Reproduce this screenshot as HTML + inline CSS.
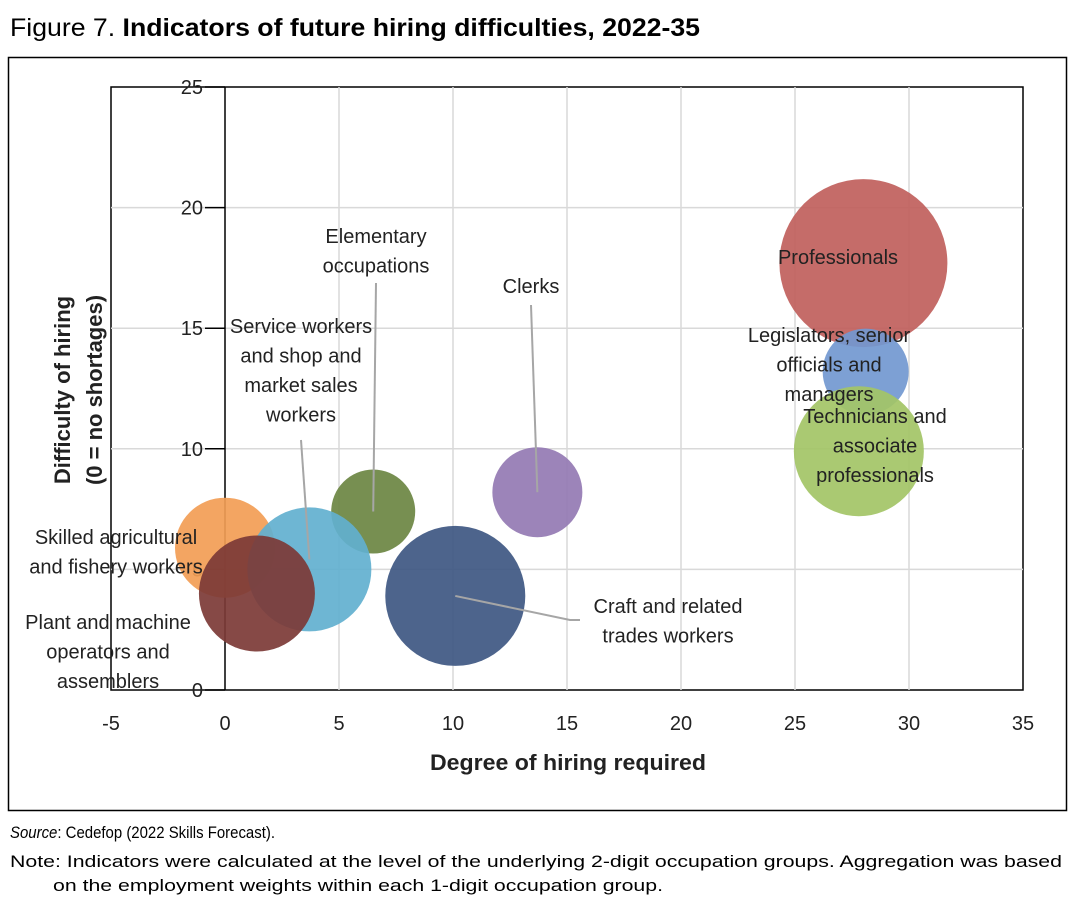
<!DOCTYPE html>
<html><head><meta charset="utf-8"><style>
body{margin:0;background:#fff;width:1081px;height:907px;overflow:hidden;font-family:"Liberation Sans",Arial,sans-serif}
</style></head><body>
<svg width="1081" height="907" xmlns="http://www.w3.org/2000/svg">
<text x="10" y="36" font-size="25" textLength="690" lengthAdjust="spacingAndGlyphs">Figure 7. <tspan font-weight="bold">Indicators of future hiring difficulties, 2022-35</tspan></text>
<rect x="8.5" y="57.5" width="1058" height="753" fill="none" stroke="#000" stroke-width="1.5"/>
<g id="grid"></g><g id="bubbles"></g><g id="leaders"></g><g id="labels"></g>
<text x="568" y="770" font-size="22" font-weight="bold" text-anchor="middle" fill="#222" textLength="276" lengthAdjust="spacingAndGlyphs">Degree of hiring required</text>
<text transform="translate(70,390) rotate(-90)" font-size="22" font-weight="bold" text-anchor="middle" fill="#222"><tspan x="0" dy="0">Difficulty of hiring</tspan><tspan x="0" dy="32">(0 = no shortages)</tspan></text>
<text x="10" y="838" font-size="17" textLength="265" lengthAdjust="spacingAndGlyphs"><tspan font-style="italic">Source</tspan>: Cedefop (2022 Skills Forecast).</text>
<text x="10" y="867" font-size="17" textLength="1052" lengthAdjust="spacingAndGlyphs">Note: Indicators were calculated at the level of the underlying 2-digit occupation groups. Aggregation was based</text>
<text x="53" y="891" font-size="17" textLength="610" lengthAdjust="spacingAndGlyphs">on the employment weights within each 1-digit occupation group.</text>
</svg>
<script>
const categories=["Professionals","Legislators, senior officials and managers","Technicians and associate professionals","Clerks","Elementary occupations","Service workers and shop and market sales workers","Skilled agricultural and fishery workers","Plant and machine operators and assemblers","Craft and related trades workers"];
const xValues=[28.0,28.1,27.8,13.7,6.5,3.7,0.0,1.4,10.1];
const yValues=[17.7,13.2,9.9,8.2,7.4,5.0,5.9,4.0,3.9];
const sizes=[84,43,65,45,42,62,50,58,70];
const xTicks=[-5,0,5,10,15,20,25,30,35];
const yTicks=[0,5,10,15,20,25];
const colors=["#c0605c","#7298d0","#a3c466","#9479b3","#6b8542","#62b0cf","#f29d55","#7c3a36","#3e5782"];
const NS="http://www.w3.org/2000/svg";
const X=v=>225+(v)*22.8, Y=v=>690-v*24.12;
function mk(t,a,p){const e=document.createElementNS(NS,t);for(const k in a)e.setAttribute(k,a[k]);p.appendChild(e);return e;}
const g=document.getElementById('grid');
mk('rect',{x:111,y:87,width:912,height:603,fill:'none',stroke:'#000','stroke-width':1.5},g);
xTicks.forEach(t=>{
 if(t>-5&&t<35&&t!==0){const l=mk('line',{x1:X(t),x2:X(t),y1:87,y2:690,stroke:'#d9d9d9','stroke-width':1.5},g);}
 const tx=mk('text',{x:X(t),y:730,'font-size':20,'text-anchor':'middle',fill:'#222'},g);tx.textContent=t;
 
});
yTicks.forEach(t=>{
 if(t>0&&t<25){const l=mk('line',{x1:111,x2:1023,y1:Y(t),y2:Y(t),stroke:'#d9d9d9','stroke-width':1.5},g);}
 mk('line',{x1:205,x2:225,y1:Y(t),y2:Y(t),stroke:'#000','stroke-width':1.5},g);
 const tx=mk('text',{x:203,y:Y(t)+7,'font-size':20,'text-anchor':'end',fill:'#222'},g);tx.textContent=t;
 
});
mk('line',{x1:X(0),x2:X(0),y1:87,y2:690,stroke:'#000','stroke-width':1.5},g);
const b=document.getElementById('bubbles');
const order=[0,1,2,3,4,6,5,8,7];
order.forEach(i=>{
 const c=mk('circle',{cx:X(xValues[i]),cy:Y(yValues[i]),r:sizes[i],fill:colors[i],'fill-opacity':0.92},b);
 
 
});
const lg=document.getElementById('leaders');
function lead(pts){const l=mk('polyline',{points:pts.map(p=>p.join(',')).join(' '),fill:'none',stroke:'#a6a6a6','stroke-width':2},lg);}
lead([[376,283],[X(xValues[4]),Y(yValues[4])]]);
lead([[301,440],[X(xValues[5]),Y(yValues[5])-10]]);
lead([[531,305],[X(xValues[3]),Y(yValues[3])]]);
lead([[X(xValues[8]),Y(yValues[8])],[570,620],[580,620]]);
const lb=document.getElementById('labels');
function lab(lines,x,y,name){const t=mk('text',{x:x,y:y,'font-size':20,'text-anchor':'middle',fill:'#222'},lb);
 lines.forEach((s,k)=>{const sp=mk('tspan',{x:x,dy:k?29.5:0},t);sp.textContent=s;});
 }
lab(["Professionals"],838,264,'label-professionals');
lab(["Legislators, senior","officials and","managers"],829,342,'label-legislators');
lab(["Technicians and","associate","professionals"],875,423,'label-technicians');
lab(["Clerks"],531,293,'label-clerks');
lab(["Elementary","occupations"],376,243,'label-elementary');
lab(["Service workers","and shop and","market sales","workers"],301,333,'label-service');
lab(["Skilled agricultural","and fishery workers"],116,544,'label-skilled-agri');
lab(["Plant and machine","operators and","assemblers"],108,629,'label-plant');
lab(["Craft and related","trades workers"],668,613,'label-craft');
</script>
</body></html>
